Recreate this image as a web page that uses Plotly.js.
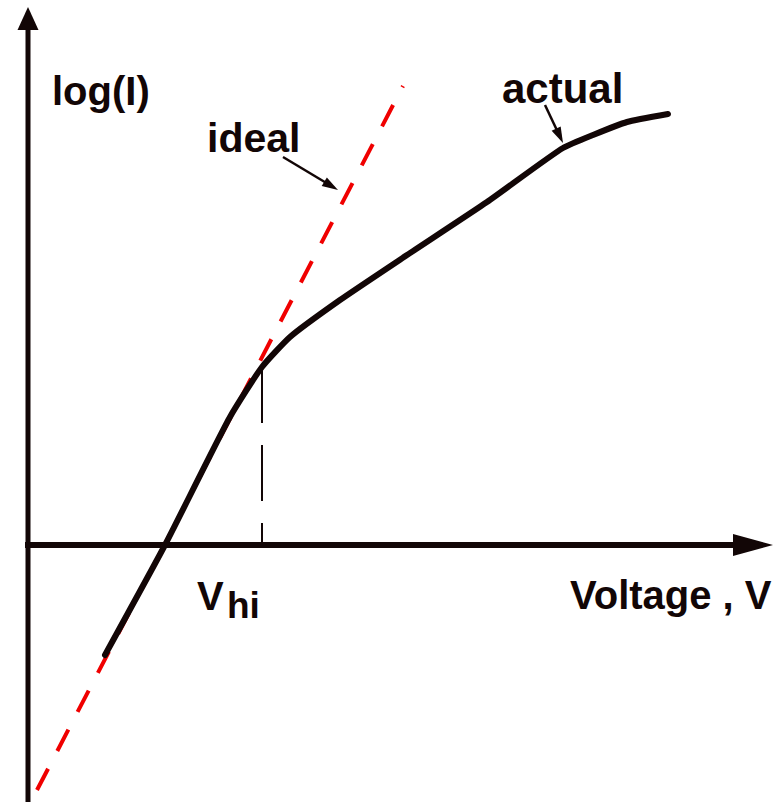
<!DOCTYPE html>
<html>
<head>
<meta charset="utf-8">
<script src="https://cdn.plot.ly/plotly-3.0.1.min.js"></script>
<style>
html,body{margin:0;padding:0;background:#fff;}
/* rounded ends on the measured curve (last scatter trace) */
#chart .scatterlayer .trace:last-child path.js-line{stroke-linecap:round;stroke-linejoin:round;}
</style>
</head>
<body>
<div id="chart" style="width:784px;height:802px;"></div>
<script>
// Diode-style I–V sketch: log(I) against voltage, arbitrary units,
// origin at the crossing of the two axes.

// measured ("actual") characteristic
const actualV    = [0.77, 1.37, 2.02, 2.34, 2.62, 3.12, 3.79, 4.59, 5.35, 5.65, 5.99, 6.40];
const actualLogI = [-1.10, 0.00, 1.28, 1.78, 2.08, 2.45, 2.90, 3.43, 3.97, 4.10, 4.23, 4.31];

// ideal exponential characteristic (straight line on a log scale)
const idealV    = [0.09, 3.75];
const idealLogI = [-2.45, 4.59];

// high-injection onset voltage and the current there
const vHi     = 2.34;
const vHiLogI = 1.78;

// axis extents
const vAxisLogI = [-2.57, 5.15];   // vertical axis shaft
const vAxisTip  = 5.38;
const hAxisV    = [-0.03, 7.05];   // horizontal axis shaft
const hAxisTip  = 7.45;

// label pointers: [tail, tip]
const idealPointer  = [[2.55, 3.88], [3.10, 3.55]];
const actualPointer = [[5.17, 4.40], [5.35, 4.02]];

const INK = '#120606';
const PX_PER_UNIT = 100;   // both axes share this scale

// triangle arrowhead drawn in pixel units, anchored at the tip
function arrowHead(tail, tip, len, half, color) {
  const dx = tip[0] - tail[0], dy = tip[1] - tail[1];
  const d = Math.hypot(dx, dy);
  const ux = dx / d, uy = dy / d;
  const bx = -len * ux, by = -len * uy;
  const px = -uy, py = ux;
  return {
    type: 'path', xref: 'x', yref: 'y',
    xsizemode: 'pixel', ysizemode: 'pixel',
    xanchor: tip[0], yanchor: tip[1],
    path: `M0,0 L${(bx + half * px).toFixed(2)},${(by + half * py).toFixed(2)} ` +
          `L${(bx - half * px).toFixed(2)},${(by - half * py).toFixed(2)} Z`,
    fillcolor: color, line: {width: 0}, layer: 'above'
  };
}

// shaft that stops where the head begins
function arrowShaft(tail, tip, len, width, color) {
  const dx = tip[0] - tail[0], dy = tip[1] - tail[1];
  const d = Math.hypot(dx, dy);
  const back = len / PX_PER_UNIT;
  return {
    type: 'line', xref: 'x', yref: 'y',
    x0: tail[0], y0: tail[1],
    x1: tip[0] - back * dx / d, y1: tip[1] - back * dy / d,
    line: {color: color, width: width}, layer: 'above'
  };
}

const traces = [
  {
    x: idealV, y: idealLogI, mode: 'lines', hoverinfo: 'skip',
    line: {color: '#f00000', width: 4, dash: '24px,20px'}
  },
  {
    x: [vHi, vHi], y: [vHiLogI, 0], mode: 'lines', hoverinfo: 'skip',
    line: {color: INK, width: 2, dash: '56px,22px'}
  },
  {
    x: actualV, y: actualLogI, mode: 'lines', hoverinfo: 'skip',
    line: {color: INK, width: 6, shape: 'spline', smoothing: 0.5}
  }
];

const shapes = [
  // axes
  {type: 'line', xref: 'x', yref: 'y', x0: 0, x1: 0, y0: vAxisLogI[0], y1: vAxisLogI[1],
   line: {color: INK, width: 5}, layer: 'below'},
  {type: 'line', xref: 'x', yref: 'y', x0: hAxisV[0], x1: hAxisV[1], y0: 0, y1: 0,
   line: {color: INK, width: 6}, layer: 'below'},
  arrowHead([0, 0], [0, vAxisTip], 23, 10.5, INK),
  arrowHead([0, 0], [hAxisTip, 0], 40, 11, INK),
  // label pointers
  arrowShaft(idealPointer[0], idealPointer[1], 15, 2.5, INK),
  arrowHead(idealPointer[0], idealPointer[1], 16, 5, INK),
  arrowShaft(actualPointer[0], actualPointer[1], 15, 2.5, INK),
  arrowHead(actualPointer[0], actualPointer[1], 16, 5, INK)
];

function label(text, x, y, size) {
  return {text: text, x: x, y: y, xref: 'x', yref: 'y', xanchor: 'left', yanchor: 'middle',
          showarrow: false,
          font: {family: '"Liberation Sans", Arial, sans-serif', size: size, color: INK, weight: 'bold'}};
}

const annotations = [
  label('log(I)', 0.22, 4.54, 40),
  label('ideal', 1.77, 4.07, 41),
  label('actual', 4.72, 4.57, 42),
  label('V', 1.67, -0.51, 40),
  label('hi', 1.97, -0.60, 37),
  label('Voltage , V', 5.40, -0.50, 40)
];

const layout = {
  width: 784, height: 802,
  margin: {l: 0, r: 0, t: 0, b: 0, pad: 0},
  paper_bgcolor: '#ffffff', plot_bgcolor: '#ffffff',
  showlegend: false,
  xaxis: {range: [-0.28, 7.56], visible: false, fixedrange: true},
  yaxis: {range: [-2.57, 5.45], visible: false, fixedrange: true},
  shapes: shapes,
  annotations: annotations
};

Plotly.newPlot('chart', traces, layout, {staticPlot: true, displayModeBar: false});
</script>
</body>
</html>
